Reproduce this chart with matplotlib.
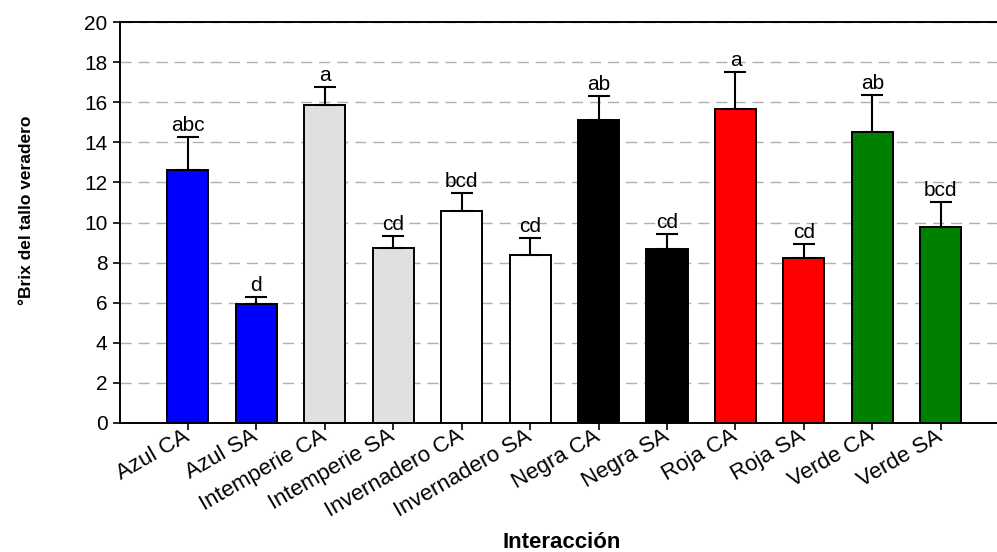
import numpy as np
import matplotlib
matplotlib.use("Agg")
import matplotlib.pyplot as plt
import matplotlib.transforms as mtransforms

# --- data ---
categorias = ["Azul CA", "Azul SA", "Intemperie CA", "Intemperie SA",
              "Invernadero CA", "Invernadero SA", "Negra CA", "Negra SA",
              "Roja CA", "Roja SA", "Verde CA", "Verde SA"]
brix = [12.62, 5.93, 15.86, 8.73, 10.57, 8.38, 15.11, 8.68, 15.66, 8.23, 14.51, 9.78]
error_sup = [1.64, 0.35, 0.90, 0.60, 0.90, 0.85, 1.20, 0.75, 1.85, 0.70, 1.85, 1.24]
letras = ["abc", "d", "a", "cd", "bcd", "cd", "ab", "cd", "a", "cd", "ab", "bcd"]
colores = ["#0000FF", "#0000FF", "#E0E0E0", "#E0E0E0", "#FFFFFF", "#FFFFFF",
           "#000000", "#000000", "#FF0000", "#FF0000", "#008000", "#008000"]

plt.rcParams['font.family'] = ['Liberation Sans', 'DejaVu Sans']

fig = plt.figure(figsize=(9.97, 5.52), dpi=100)
ax = fig.add_axes([120 / 997, 1 - 423 / 552, 1 - 120 / 997, (423 - 22) / 552])

x = np.arange(len(categorias))
ax.bar(x, brix, width=0.6, color=colores, edgecolor='black', linewidth=1.4, zorder=3)
ax.errorbar(x, brix, yerr=[np.zeros(len(brix)), error_sup], fmt='none',
            ecolor='black', elinewidth=1.5, capsize=8, capthick=1.5, zorder=4)

# letras de significancia sobre las barras de error
for xi, yi, ei, lt in zip(x, brix, error_sup, letras):
    ax.text(xi, yi + ei + 0.1, lt, ha='center', va='bottom', fontsize=15)

ax.set_xlim(-0.99, 11.82)
ax.set_ylim(0, 20)
ax.set_yticks(np.arange(0, 21, 2))
ax.set_xticks(x)
ax.set_xticklabels(categorias, rotation=30, ha='right', va='center',
                   rotation_mode='anchor', fontsize=16)
# small shift so the end of each label sits just right of its tick
offset = mtransforms.ScaledTranslation(8 / 100, -4 / 100, fig.dpi_scale_trans)
for lbl in ax.get_xticklabels():
    lbl.set_transform(lbl.get_transform() + offset)
ax.tick_params(axis='y', labelsize=15, length=5, width=1.2, direction='out', pad=4)
ax.tick_params(axis='x', length=5, width=1.2, direction='out')

ax.grid(axis='y', color='#b0b0b0', linestyle=(0, (8, 5)), linewidth=1.0, zorder=0)
ax.spines['right'].set_visible(False)
for s in ['left', 'bottom', 'top']:
    ax.spines[s].set_linewidth(1.4)

fig.text(27 / 997, 1 - 210 / 552, "°Brix del tallo veradero", rotation=90,
         ha='center', va='center', fontsize=12.5, fontweight='bold')
fig.text(562 / 997, 1 - 542 / 552, "Interacción", ha='center', va='center',
         fontsize=16, fontweight='bold')

plt.savefig("out.png", dpi=100)
